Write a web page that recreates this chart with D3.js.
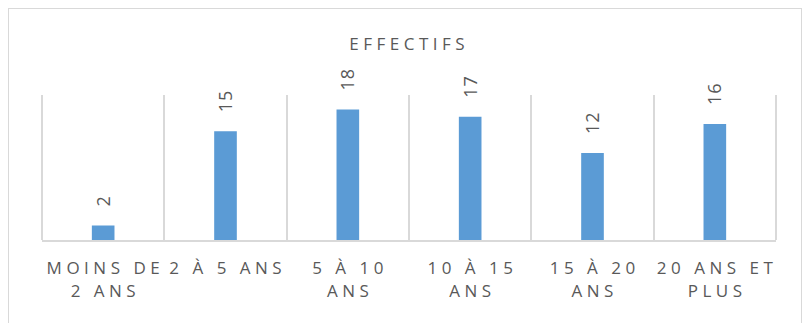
<!DOCTYPE html>
<meta charset="utf-8">
<style>
body { margin: 0; background: #fff; }
text { font-family: "Open Sans", sans-serif; fill: #595959; }
.grid line { stroke: #d9d9d9; stroke-width: 2px; }
.bar { fill: #5b9bd5; }
</style>
<body>
<script src="https://cdn.jsdelivr.net/npm/d3@7"></script>
<script>

// data
var categories = ["MOINS DE 2 ANS", "2 À 5 ANS", "5 À 10 ANS", "10 À 15 ANS", "15 À 20 ANS", "20 ANS ET PLUS"];
var effectifs = [2, 15, 18, 17, 12, 16];
var yDomain = [0, 20];
var title = "EFFECTIFS";

var W = 804, H = 323;
var plot = {left: 42, right: 776, top: 95, bottom: 240};
var spacing = 4.5;

var svg = d3.select("body").append("svg")
    .attr("width", W)
    .attr("height", H);

// chart frame
svg.append("rect")
    .attr("x", 8.5).attr("y", 8.5)
    .attr("width", 793).attr("height", 340)
    .attr("fill", "#fff")
    .attr("stroke", "#d9d9d9");

// scales
var x = d3.scaleBand().domain(categories).range([plot.left, plot.right]).padding(0);
var y = d3.scaleLinear().domain(yDomain).range([plot.bottom, plot.top]);
var barW = x.bandwidth() * 0.185;

// vertical gridlines at category boundaries
var bounds = categories.map(function(c) { return x(c); }).concat([plot.right]);
svg.append("g").attr("class", "grid")
    .selectAll("line")
    .data(bounds)
    .enter().append("line")
    .attr("x1", function(d) { return Math.round(d); })
    .attr("x2", function(d) { return Math.round(d); })
    .attr("y1", y(yDomain[1]))
    .attr("y2", y(0));

// bars
svg.selectAll(".bar")
    .data(effectifs)
    .enter().append("rect")
    .attr("class", "bar")
    .attr("x", function(d, i) { return x(categories[i]) + (x.bandwidth() - barW) / 2; })
    .attr("y", function(d) { return y(d); })
    .attr("width", barW)
    .attr("height", function(d) { return y(0) - y(d); });

// baseline
svg.append("g").attr("class", "grid")
    .append("line")
    .attr("x1", plot.left).attr("x2", plot.right)
    .attr("y1", y(0) + 1).attr("y2", y(0) + 1);

// value labels, rotated
svg.selectAll(".lbl")
    .data(effectifs)
    .enter().append("text")
    .attr("class", "lbl")
    .attr("transform", function(d, i) {
        var cx = x(categories[i]) + x.bandwidth() / 2;
        return "translate(" + cx + "," + (y(d) - 19) + ") rotate(-90)";
    })
    .attr("dy", "0.36em")
    .style("font-size", "18px")
    .style("letter-spacing", "1px")
    .text(function(d) { return d; });

// title
svg.append("text")
    .attr("x", 407 + spacing / 2)
    .attr("y", 50)
    .attr("text-anchor", "middle")
    .style("font-size", "17px")
    .style("letter-spacing", spacing + "px")
    .text(title);

// category labels, wrapped to the band width
var maxW = x.bandwidth() - 4;
categories.forEach(function(c) {
    var cx = x(c) + x.bandwidth() / 2 + spacing / 2;
    var t = svg.append("text")
        .attr("text-anchor", "middle")
        .style("font-size", "17px")
        .style("letter-spacing", spacing + "px");
    var words = c.split(" "), line = [], lines = [];
    var probe = t.append("tspan");
    words.forEach(function(w) {
        line.push(w);
        probe.text(line.join(" "));
        if (probe.node().getComputedTextLength() - spacing > maxW && line.length > 1) {
            line.pop();
            lines.push(line.join(" "));
            line = [w];
        }
    });
    lines.push(line.join(" "));
    probe.remove();
    lines.forEach(function(l, k) {
        t.append("tspan")
            .attr("x", cx)
            .attr("y", 274 + k * 23)
            .text(l);
    });
});

</script>
</body>
